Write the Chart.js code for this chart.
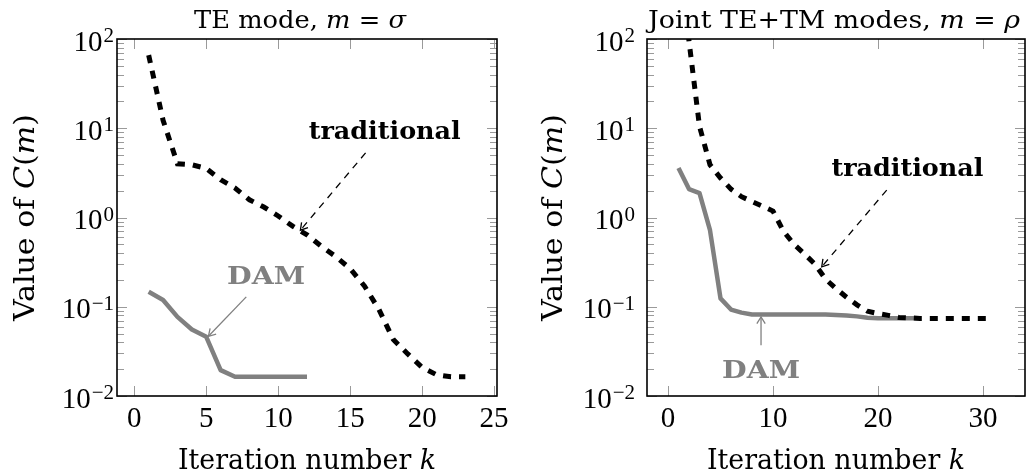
<!DOCTYPE html>
<html><head><meta charset="utf-8">
<script src="https://cdn.jsdelivr.net/npm/chart.js@4/dist/chart.umd.min.js"></script>
<style>
html,body{margin:0;padding:0;background:#fff;width:1026px;height:474px;overflow:hidden}
#w1{position:absolute;left:0;top:0;width:520px;height:474px}
#w2{position:absolute;left:520px;top:0;width:506px;height:474px}
</style></head><body>
<div id="w1"><canvas id="c1"></canvas></div>
<div id="w2"><canvas id="c2"></canvas></div>
<script>
// ---------- data ----------
const teTradK = [1,2,3,4,5,6,7,8,9,10,11,12,13,14,15,16,17,18,19,20,21,22,23];
const teTradC = [66,12.3,4.0,3.9,3.55,2.65,2.14,1.58,1.31,1.04,0.80,0.64,0.475,0.365,0.267,0.170,0.093,0.0428,0.0296,0.0209,0.0173,0.0164,0.0164];
const teDamK = [1,2,3,4,5,6,7,8,9,10,11,12];
const teDamC = [0.147,0.119,0.077,0.0557,0.046,0.0195,0.0164,0.0164,0.0164,0.0164,0.0164,0.0164];
const jointTradK = [1,2,3,4,5,6,7,8,9,10,11,12,13,14,15,16,17,18,19,20,21,22,23,24,25,26,27,28,29,30,31];
const jointTradC = [900,95,10.5,3.9,2.77,2.08,1.71,1.51,1.34,1.18,0.70,0.50,0.39,0.30,0.204,0.16,0.128,0.105,0.089,0.084,0.080,0.076,0.075,0.074,0.074,0.074,0.074,0.074,0.074,0.074,0.074];
const jointDamK = [1,2,3,4,5,6,7,8,9,10,11,12,13,14,15,16,17,18,19,20,21,22,23,24];
const jointDamC = [3.58,2.08,1.88,0.72,0.124,0.093,0.086,0.082,0.082,0.082,0.082,0.082,0.082,0.082,0.082,0.081,0.080,0.078,0.0755,0.0745,0.0745,0.0745,0.0745,0.0745];
const teXTicks = [0,5,10,15,20,25];
const jointXTicks = [0,10,20,30];
const yTicks = [0.01,0.1,1,10,100];
const yTickExp = ['\u22122','\u22121','0','1','2'];

// ---------- styling helpers ----------
const SERIF = '"DejaVu Serif"';
const NUM = '"Liberation Serif"';
const RM = s => ({t:s, f:'27px ' + SERIF});
const IT = s => ({t:s, f:'italic 27px ' + SERIF});
const TRM = s => ({t:s, f:'25px ' + SERIF});
const TIT = s => ({t:s, f:'italic 25px ' + SERIF});
const BOLD = '700 24px ' + SERIF;

function pts(xs, ys){ return xs.map((x,i)=>({x:x, y:ys[i]})); }

function drawRich(ctx, segs, x, y, o){
  o = o || {};
  ctx.save();
  const widths = segs.map(s => { ctx.font = s.f; return ctx.measureText(s.t).width; });
  const tot = widths.reduce((a,b)=>a+b, 0);
  const sx = o.w ? o.w / tot : 1;
  ctx.translate(x, y);
  if (o.rot) ctx.rotate(o.rot);
  ctx.scale(sx, 1);
  ctx.fillStyle = o.color || '#000';
  ctx.textBaseline = 'alphabetic';
  ctx.textAlign = 'left';
  let cx = -tot/2;
  segs.forEach((s,i) => { ctx.font = s.f; ctx.fillText(s.t, cx, 0); cx += widths[i]; });
  ctx.restore();
}

function arrow(ctx, x1, y1, x2, y2, color, dash){
  ctx.save();
  ctx.strokeStyle = color; ctx.lineWidth = 1.3;
  ctx.setLineDash(dash || []);
  ctx.beginPath(); ctx.moveTo(x1, y1); ctx.lineTo(x2, y2); ctx.stroke();
  ctx.setLineDash([]);
  const a = Math.atan2(y2 - y1, x2 - x1), L = 8, sp = 0.55;
  ctx.beginPath();
  ctx.moveTo(x2 - L*Math.cos(a - sp), y2 - L*Math.sin(a - sp));
  ctx.lineTo(x2, y2);
  ctx.lineTo(x2 - L*Math.cos(a + sp), y2 - L*Math.sin(a + sp));
  ctx.stroke();
  ctx.restore();
}

function pgfPlugin(cfg){
  return {
    id: 'pgf',
    beforeDatasetsDraw(chart){
      const ctx = chart.ctx, a = chart.chartArea, xs = chart.scales.x, ys = chart.scales.y;
      ctx.save();
      ctx.strokeStyle = '#9a9a9a'; ctx.lineWidth = 1;
      const ln = (x1,y1,x2,y2) => { ctx.beginPath(); ctx.moveTo(x1,y1); ctx.lineTo(x2,y2); ctx.stroke(); };
      cfg.xTicks.forEach(v => {
        const p = Math.round(xs.getPixelForValue(v)) + 0.5;
        ln(p, a.bottom, p, a.bottom - 10); ln(p, a.top, p, a.top + 10);
      });
      yTicks.forEach((v, i) => {
        const p = Math.round(ys.getPixelForValue(v)) + 0.5;
        ln(a.left, p, a.left + 10, p); ln(a.right, p, a.right - 10, p);
        if (i < yTicks.length - 1) {
          [2,3,4,5,6,7,8,9].forEach(m => {
            const q = Math.round(ys.getPixelForValue(v*m)) + 0.5;
            ln(a.left, q, a.left + 7, q); ln(a.right, q, a.right - 7, q);
          });
        }
      });
      ctx.restore();
    },
    afterDatasetsDraw(chart){
      const ctx = chart.ctx, a = chart.chartArea, xs = chart.scales.x, ys = chart.scales.y;
      ctx.save();
      ctx.strokeStyle = '#000'; ctx.lineWidth = 1.6;
      ctx.strokeRect(a.left, a.top, a.right - a.left, a.bottom - a.top);
      // x tick labels
      ctx.fillStyle = '#000'; ctx.font = '29px ' + NUM;
      ctx.textAlign = 'center'; ctx.textBaseline = 'alphabetic';
      cfg.xTicks.forEach(v => ctx.fillText(String(v), xs.getPixelForValue(v), 427));
      // y tick labels 10^n
      yTicks.forEach((v, i) => {
        const p = ys.getPixelForValue(v);
        ctx.font = '21px ' + NUM;
        const ew = ctx.measureText(yTickExp[i]).width;
        ctx.textAlign = 'left';
        ctx.fillText(yTickExp[i], cfg.yLabRight - ew, p + 11.5 - 8.5);
        ctx.font = '29px ' + NUM;
        ctx.textAlign = 'right';
        ctx.fillText('10', cfg.yLabRight - ew - 1, p + 11.5);
      });
      ctx.restore();
      const cxp = (a.left + a.right) / 2, cyp = (a.top + a.bottom) / 2;
      // titles and axis labels
      drawRich(ctx, cfg.title, cfg.titleX, 28, {w: cfg.titleW});
      drawRich(ctx, [RM('Iteration number '), IT('k')], cxp, 469, {w: 258});
      drawRich(ctx, [RM('Value of '), IT('C'), RM('('), IT('m'), RM(')')], cfg.yTitleX, cyp, {rot: -Math.PI/2, w: 207});
      // annotations
      cfg.notes.forEach(n => {
        const X = v => xs.getPixelForValue(v), Y = v => ys.getPixelForValue(v);
        drawRich(ctx, [{t: n.text, f: BOLD}], X(n.tx), Y(n.ty), {w: n.tw, color: n.color});
        arrow(ctx, X(n.ax1), Y(n.ay1), X(n.ax2), Y(n.ay2), n.color, n.dash);
      });
    }
  };
}

function makeChart(id, d){
  return new Chart(document.getElementById(id), {
    type: 'line',
    data: {
      datasets: [
        { label: 'traditional', data: pts(d.tk, d.tc), borderColor: '#000', borderWidth: 5,
          borderDash: [8, 8], borderCapStyle: 'butt', borderJoinStyle: 'miter',
          pointRadius: 0, tension: 0, fill: false, clip: 0, order: 0 },
        { label: 'DAM', data: pts(d.dk, d.dc), borderColor: '#808080', borderWidth: 4.5,
          borderCapStyle: 'butt', borderJoinStyle: 'round',
          pointRadius: 0, tension: 0, fill: false, clip: 0, order: 1 }
      ]
    },
    options: {
      responsive: true, maintainAspectRatio: false, animation: false,
      events: [],
      layout: { padding: { top: 39, right: d.padRight, left: 0, bottom: 0 } },
      plugins: { legend: { display: false }, tooltip: { enabled: false }, title: { display: false } },
      scales: {
        x: { type: 'linear', min: d.xmin, max: d.xmax,
             ticks: { display: false }, grid: { display: false }, border: { display: false },
             afterFit(s){ s.height = 78; } },
        y: { type: 'logarithmic', min: 0.01, max: 100,
             ticks: { display: false }, grid: { display: false }, border: { display: false },
             afterFit(s){ s.width = d.yWidth; } }
      }
    },
    plugins: [pgfPlugin(d.cfg)]
  });
}

makeChart('c1', {
  tk: teTradK, tc: teTradC, dk: teDamK, dc: teDamC,
  xmin: -1.2, xmax: 25.2, padRight: 23, yWidth: 117,
  cfg: {
    xTicks: teXTicks, yLabRight: 114, yTitleX: 34,
    title: [TRM('TE mode, '), TIT('m'), TRM(' = '), TIT('\u03C3')], titleX: 300, titleW: 212,
    notes: [
      { text: 'traditional', tx: 17.4, ty: 7.5, tw: 152, color: '#000',
        ax1: 16.07, ay1: 5.3, ax2: 11.54, ay2: 0.72, dash: [7, 6] },
      { text: 'DAM', tx: 9.16, ty: 0.179, tw: 78, color: '#808080',
        ax1: 7.78, ay1: 0.129, ax2: 5.15, ay2: 0.0467, dash: [] }
    ]
  }
});

makeChart('c2', {
  tk: jointTradK, tc: jointTradC, dk: jointDamK, dc: jointDamC,
  xmin: -2, xmax: 34, padRight: 1, yWidth: 127,
  cfg: {
    xTicks: jointXTicks, yLabRight: 115, yTitleX: 42,
    title: [TRM('Joint TE+TM modes, '), TIT('m'), TRM(' = '), TIT('\u03C1')], titleX: 314, titleW: 372,
    notes: [
      { text: 'traditional', tx: 22.8, ty: 2.91, tw: 152, color: '#000',
        ax1: 20.83, ay1: 2.03, ax2: 14.64, ay2: 0.28, dash: [7, 6] },
      { text: 'DAM', tx: 8.86, ty: 0.016, tw: 78, color: '#808080',
        ax1: 8.86, ay1: 0.037, ax2: 8.86, ay2: 0.077, dash: [] }
    ]
  }
});
</script>
</body></html>
